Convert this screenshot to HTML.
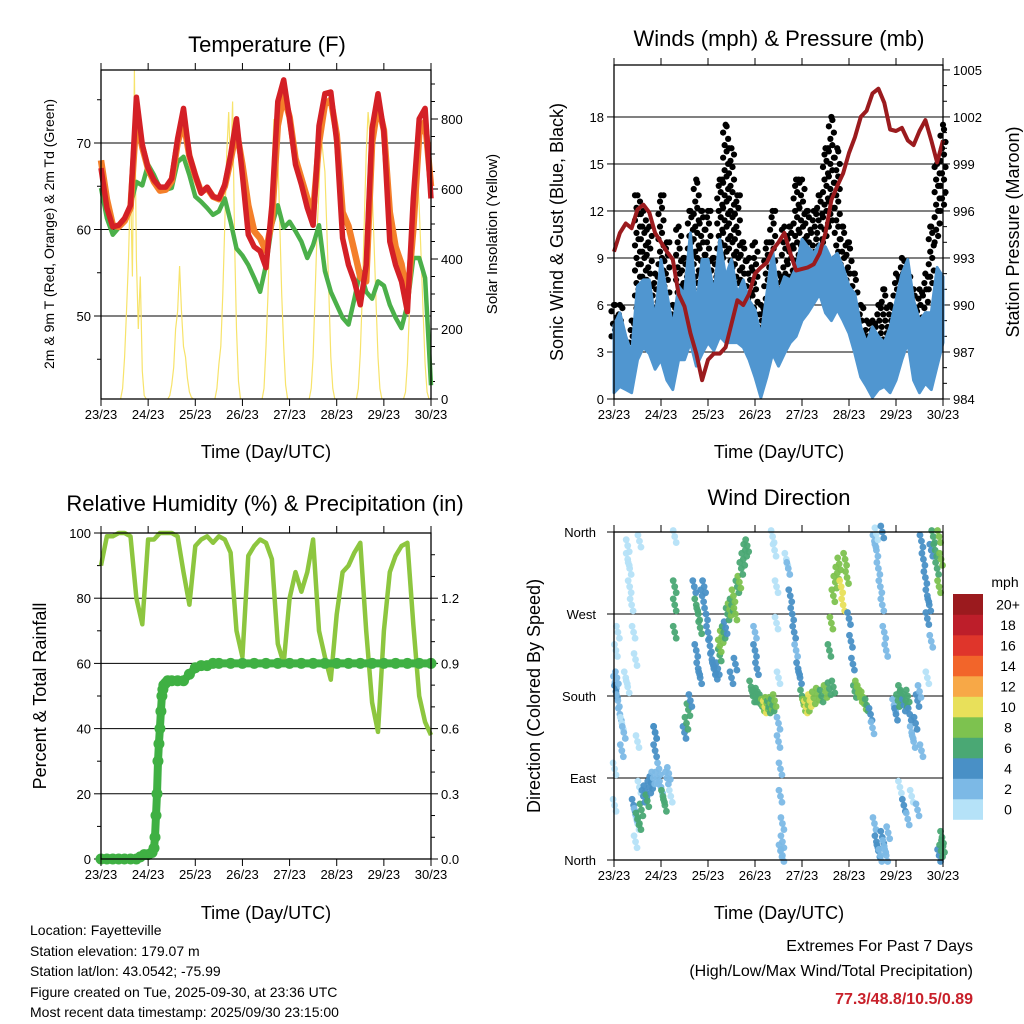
<!DOCTYPE html>
<html><head><meta charset="utf-8">
<style>
body{margin:0;background:#fff;}
svg{display:block;font-family:"Liberation Sans",Arial,sans-serif;}
</style></head>
<body>
<svg id="chart" width="1024" height="1024" viewBox="0 0 1024 1024" xmlns="http://www.w3.org/2000/svg">
<rect x="0" y="0" width="1024" height="1024" fill="#fff"/>
<g id="layer"></g>
<text x="267" y="52" font-size="22" text-anchor="middle">Temperature (F)</text>
<text x="779" y="46" font-size="22" text-anchor="middle">Winds (mph) &amp; Pressure (mb)</text>
<text x="265" y="511" font-size="22" text-anchor="middle">Relative Humidity (%) &amp; Precipitation (in)</text>
<text x="779" y="505" font-size="22" text-anchor="middle">Wind Direction</text>
<text x="266" y="458" font-size="18" text-anchor="middle">Time (Day/UTC)</text>
<text x="779" y="458" font-size="18" text-anchor="middle">Time (Day/UTC)</text>
<text x="266" y="919" font-size="18" text-anchor="middle">Time (Day/UTC)</text>
<text x="779" y="919" font-size="18" text-anchor="middle">Time (Day/UTC)</text>
<text transform="translate(54,234) rotate(-90)" font-size="14" text-anchor="middle">2m &amp; 9m T (Red, Orange) &amp; 2m Td (Green)</text>
<text transform="translate(497,234) rotate(-90)" font-size="15" text-anchor="middle">Solar Insolation (Yellow)</text>
<text transform="translate(563,232) rotate(-90)" font-size="18" text-anchor="middle">Sonic Wind &amp; Gust (Blue, Black)</text>
<text transform="translate(1019,232) rotate(-90)" font-size="18" text-anchor="middle">Station Pressure (Maroon)</text>
<text transform="translate(46,696) rotate(-90)" font-size="18" text-anchor="middle">Percent &amp; Total Rainfall</text>
<text transform="translate(540,696) rotate(-90)" font-size="18" text-anchor="middle">Direction (Colored By Speed)</text>
<g font-size="14">
<text x="30" y="935">Location: Fayetteville</text>
<text x="30" y="956">Station elevation: 179.07 m</text>
<text x="30" y="976">Station lat/lon: 43.0542; -75.99</text>
<text x="30" y="997">Figure created on Tue, 2025-09-30, at 23:36 UTC</text>
<text x="30" y="1017">Most recent data timestamp: 2025/09/30 23:15:00</text>
</g>
<text x="973" y="951" font-size="16" text-anchor="end">Extremes For Past 7 Days</text>
<text x="973" y="976" font-size="16" text-anchor="end">(High/Low/Max Wind/Total Precipitation)</text>
<text x="973" y="1004" font-size="16" font-weight="bold" fill="#c8202a" text-anchor="end">77.3/48.8/10.5/0.89</text>
</svg>
<script>
// ---------- data ----------
var dayLabels = ["23/23","24/23","25/23","26/23","27/23","28/23","29/23","30/23"];
var temp2m = [67.1,62.5,60.3,60.5,61.3,62.8,75.3,69.8,67.1,65.7,64.9,64.9,65.9,70.5,74.0,68.6,66.3,64.2,64.9,63.8,63.6,65.2,68.6,72.8,66.3,59.4,58.0,57.5,55.6,62.8,74.8,77.3,72.8,67.5,65.2,62.5,60.5,72.0,75.7,75.9,70.2,59.0,55.9,54.0,51.3,55.9,71.7,75.7,71.3,58.6,55.9,54.0,50.5,63.6,72.8,74.0,63.6];
var temp9m = [68.0,63.5,60.5,60.3,61.0,62.5,73.0,69.5,67.0,65.5,64.5,64.6,65.6,70.0,72.5,68.5,66.2,64.3,64.8,63.8,63.5,65.0,68.0,71.5,67.5,62.8,59.8,59.0,57.5,61.0,72.0,75.5,73.0,68.2,65.9,63.6,62.0,70.0,74.5,75.0,71.0,62.0,60.4,57.5,54.5,54.0,70.0,74.5,71.5,62.0,58.0,56.0,52.0,60.0,71.0,72.5,65.0];
var dewpt = [64.8,61.3,59.4,60.2,60.9,62.8,65.5,65.1,67.5,66.3,64.8,64.6,64.8,67.8,68.4,66.3,63.8,63.2,62.5,61.7,62.1,63.6,60.9,57.8,57.0,55.9,54.4,52.8,55.9,60.5,62.8,60.2,60.9,59.8,58.6,56.7,58.2,60.5,55.2,52.8,51.3,49.8,49.0,52.0,55.2,52.8,52.0,54.0,53.5,51.3,49.8,48.6,51.3,56.7,56.7,54.4,42.0];
var solarDay1 = [30,120,250,400,620,350,940,400,200,350,80,10,0];
var solarDay2 = [10,40,90,200,250,380,250,150,120,60,20,5,0];
var solarDay3 = [30,100,150,300,500,700,820,650,850,450,200,50,0];
var solarDay4 = [30,150,300,500,650,800,760,700,500,300,150,40,0];
var solarDay5 = [30,120,300,480,600,760,700,650,480,300,120,30,0];
var solarDay6 = [30,130,300,500,700,820,750,600,450,280,120,30,0];
var solarDay7 = [20,100,250,400,600,700,650,550,400,250,100,20,0];
var windLo = [0.4,0.8,0.6,0.4,2.5,3.3,2.9,1.9,2.5,1.2,0.6,2.5,2.5,3.6,2.1,2.9,3.6,3.1,4.0,3.6,3.6,3.6,3.3,2.5,1.4,0.1,1.4,2.9,2.1,2.9,3.6,4.0,5.0,5.5,6.1,6.7,5.5,5.0,5.7,5.0,4.2,2.9,1.4,0.8,0.1,0.6,0.8,0.4,1.2,2.5,3.6,1.2,0.4,1.0,0.6,2.1,3.6];
var windHi = [4.7,5.5,4.0,2.9,7.2,7.6,7.6,5.0,8.9,6.7,4.6,7.2,6.7,10.6,5.9,8.9,8.9,6.7,10.2,7.8,8.9,6.7,7.6,6.3,5.7,4.0,6.7,9.5,6.7,7.8,7.6,8.4,10.2,9.7,9.3,9.9,9.7,8.9,9.3,8.4,7.2,6.7,4.6,3.6,4.6,4.0,3.6,4.6,6.3,8.0,8.9,6.3,5.0,5.5,5.5,8.4,7.8];
var gustLo = [4,3,1,2,5,7,6,5,7,4,3,6,5,8,7,8,6,5,8,9,8,7,6,4,5,3,4,6,5,6,7,8,9,8,9,9,10,11,9,7,6,4,3,2,2,3,3,3,5,6,5,3,4,5,7,10,12];
var gustHi = [6,6,3,5,13,12,11,8,13,10,6,11,9,12,14,12,12,9,14,17.5,16,13,10,9,10,6,10,12,8,11,11,14,14,12,12,13,16,18,16,11,10,8,6,5,5,6,7,6,8,9,8,7,7,8,11,15,17.5];
var pressure = [993.4,994.6,995.2,994.9,996.1,996.4,995.9,994.6,994.0,993.4,992.9,990.7,989.9,988.2,986.9,985.2,986.5,986.9,986.9,987.3,988.8,990.3,990.0,990.7,992.0,992.4,992.7,993.5,994.0,994.6,993.3,992.2,992.3,992.4,992.6,993.3,994.6,996.7,997.6,998.4,999.7,1000.7,1002.0,1002.4,1003.5,1003.8,1002.9,1001.2,1001.1,1001.3,1000.5,1000.2,1001.1,1001.8,1000.5,999.1,1000.5];
var rh = [90,99,99,100,100,99,80,72,98,98,100,100,100,99,88,78,96,98,99,97,99,98,94,70,62,93,96,98,97,92,66,60,80,88,82,88,98,70,62,55,75,88,90,94,97,70,48,39,70,88,93,96,97,72,50,42,38];
var precipHours = [0,3,6,9,12,15,18,20,22,24,26,27,27.5,28,28.5,29,29.5,30,30.5,31,31.5,32,33,34,36,39,42,45,48,51,54,57,60,66,72,78,84,90,96,102,108,114,120,126,132,138,144,150,156,162,168];
var precipVals = [0,0,0,0,0,0,0,0.01,0.02,0.02,0.03,0.05,0.1,0.2,0.3,0.45,0.53,0.6,0.68,0.75,0.78,0.8,0.81,0.82,0.82,0.82,0.82,0.85,0.88,0.89,0.89,0.9,0.9,0.9,0.9,0.9,0.9,0.9,0.9,0.9,0.9,0.9,0.9,0.9,0.9,0.9,0.9,0.9,0.9,0.9,0.9];
var dirHours = [0.5,1,1.5,2,3,4,5,6,7,1,2,7,8,4,0.3,0.3,7,8,9,10,11,12,13,12,11,13,
10,11,12,13,14,15,16,17,18,19,20,21,22,23,24,25,26,27,28,29,21,21,31,
36,37,38,39,41,42,43,44,45,46,47,48,49,42,43,44,31,31,31,50,51,52,53,54,
54,55,56,57,58,59,60,61,62,63,64,65,66,67,68,62,60,
70,71,72,73,74,75,76,77,78,79,80,81,82,72,72,73,81,82,83,83,84,84,85,85,86,86,85,86,84,
88,89,90,91,92,93,94,95,96,97,98,99,100,102,104,106,108,110,112,
110,111,112,113,114,115,116,117,118,119,120,121,122,123,124,125,126,127,128,129,131,132,
133,134,135,136,137,138,139,134,137,133,134,135,136,137,138,139,140,
143,144,145,146,147,148,149,150,151,152,153,154,155,156,157,146,148,150,152,155,
157,158,159,160,160,161,162,163,164,165,166,167,166,162,160,166,167,167.5,168];
var dirDeg = [195,185,200,175,160,150,140,200,190,230,250,330,300,120,60,100,345,320,280,250,220,130,80,40,20,350,
60,50,45,40,55,70,75,65,80,85,90,140,90,100,80,70,60,90,95,70,140,120,355,
140,150,165,175,300,280,270,255,290,300,270,250,235,230,210,200,300,280,250,220,210,205,210,225,
235,245,250,255,270,275,280,290,270,300,305,320,330,340,345,215,200,
190,180,180,182,178,175,170,168,172,168,172,170,175,250,230,210,355,340,300,260,200,130,100,70,40,20,10,5,150,
330,320,290,270,250,230,210,200,180,170,168,170,175,178,182,180,185,188,190,
230,260,290,305,315,325,300,280,330,310,265,240,215,185,190,185,180,178,172,170,160,145,
350,340,320,300,280,250,230,358,360,40,20,10,5,25,15,5,30,
170,160,175,185,180,170,175,180,160,140,130,150,175,185,120,80,60,45,70,55,
350,330,310,290,265,280,340,355,340,320,300,330,355,240,200,5,10,25,15];
var dirSpeed = [3,4,2,3,2,1,2,1,1,1,1,0,1,2,1,1,0,0,0,0,1,1,0,0,0,0,
4,3,6,6,6,5,4,6,4,4,3,4,3,3,2,6,6,3,2,1,4,4,0,
4,6,6,4,4,6,6,6,4,4,4,4,4,4,4,4,6,6,6,4,4,5,4,6,
8,8,6,4,6,8,6,8,8,6,8,6,6,6,6,4,4,
6,6,6,6,6,6,8,10,8,6,8,6,8,2,4,4,0,0,1,1,1,2,2,2,2,3,3,2,2,
0,2,4,4,4,2,4,4,6,8,10,8,10,8,8,6,8,6,6,
6,8,8,8,8,8,10,10,8,8,4,4,4,6,8,8,8,8,8,6,4,2,
2,2,2,2,2,2,2,1,4,2,4,4,2,4,3,2,2,
3,4,6,6,6,4,6,6,4,3,3,4,4,3,2,1,4,2,1,3,
4,4,4,4,4,4,4,6,6,6,8,8,8,3,1,4,6,6,6];
var speedColors = ["#b5e2f8","#7cb9e6","#4990c6","#4aa874","#7dc24f","#e8e05a","#f7a847","#f2652a","#df352b","#bd1e2a","#9b1a1e"];
var colorbarLabels = ["0","2","4","6","8","10","12","14","16","18","20+"];

// ---------- helpers ----------
var NS = "http://www.w3.org/2000/svg";
var layer = document.getElementById("layer");
function mk(tag, attrs, name, parent) {
  var el = document.createElementNS(NS, tag);
  for (var k in attrs) el.setAttribute(k, attrs[k]);
  
  
  (parent || layer).appendChild(el);
  return el;
}
function txt(x, y, s, size, anchor, name) {
  var t = mk("text", {x: x, y: y, "font-size": size, "text-anchor": anchor}, name);
  t.textContent = s;
  return t;
}
function pathFrom(xs, ys) {
  var d = "";
  for (var i = 0; i < xs.length; i++) d += (i ? "L" : "M") + xs[i].toFixed(1) + " " + ys[i].toFixed(1);
  return d;
}
function xAxis(x0, x1, y0, y1, prefix) {
  for (var i = 0; i < dayLabels.length; i++) {
    var x = x0 + (x1 - x0) * i / 7;
    mk("line", {x1: x, y1: y1, x2: x, y2: y1 + 7, stroke: "#000", "stroke-width": 1}, prefix + "-x-tick");
    mk("line", {x1: x, y1: y0, x2: x, y2: y0 - 7, stroke: "#000", "stroke-width": 1}, prefix + "-x-tick-top");
    txt(x, y1 + 20, dayLabels[i], 13, "middle", prefix + "-x-tick-label");
  }
}
function yTicks(vals, yf, x, side, labelFn, prefix, grid, x0, x1, major) {
  for (var i = 0; i < vals.length; i++) {
    var y = yf(vals[i]);
    var len = major ? 7 : 4;
    mk("line", {x1: x, y1: y, x2: x + side * len, y2: y, stroke: "#000", "stroke-width": 1}, prefix + "-tick");
    if (grid) mk("line", {x1: x0, y1: y, x2: x1, y2: y, stroke: "#000", "stroke-width": 1}, prefix + "-gridline");
    if (labelFn) txt(x + side * 10, y + 5, labelFn(vals[i]), 13, side < 0 ? "end" : "start", prefix + "-tick-label");
  }
}
function frame(x0, y0, x1, y1, name) {
  mk("rect", {x: x0, y: y0, width: x1 - x0, height: y1 - y0, fill: "none", stroke: "#000", "stroke-width": 1.3}, name);
}

// ---------- Panel 1: temperature ----------
(function () {
  var x0 = 101, x1 = 431, y0 = 70, y1 = 399;
  var xh = function (h) { return x0 + h / 168 * (x1 - x0); };
  var yT = function (v) { return 143 - (v - 70) * 8.65; };
  var yS = function (v) { return 399 - v * 0.35; };
  yTicks([50, 60, 70], yT, x0, -1, function (v) { return v; }, "temp-y", true, x0, x1, true);
  yTicks([45, 55, 65, 75], yT, x0, -1, null, "temp-y-minor", false, 0, 0, false);
  yTicks([0, 200, 400, 600, 800], yS, x1, 1, function (v) { return v; }, "solar-y", false, 0, 0, true);
  yTicks([50, 100, 150, 250, 300, 350, 450, 500, 550, 650, 700, 750, 850, 900], yS, x1, 1, null, "solar-y-minor", false, 0, 0, false);
  var solar = [].concat(solarDay1, solarDay2, solarDay3, solarDay4, solarDay5, solarDay6, solarDay7);
  for (var d = 0; d < 7; d++) {
    var sx = [], sy = [];
    sx.push(xh(d * 24 + 10)); sy.push(yS(0));
    for (var k = 0; k < 13; k++) {
      var v = solar[d * 13 + k];
      sx.push(xh(d * 24 + 11 + k)); sy.push(yS(Math.min(v, 940)));
    }
    mk("path", {d: pathFrom(sx, sy), fill: "none", stroke: "#f7e36a", "stroke-width": 1.2}, "solar-line-day-" + (d + 1));
  }
  var xs = temp2m.map(function (_, i) { return xh(i * 3); });
  mk("path", {d: pathFrom(dewpt.map(function (_, i) { return xh(i * 3); }), dewpt.map(yT)), fill: "none", stroke: "#4bb04a", "stroke-width": 4.5, "stroke-linejoin": "round"}, "dewpoint-line");
  mk("path", {d: pathFrom(temp9m.map(function (_, i) { return xh(i * 3); }), temp9m.map(yT)), fill: "none", stroke: "#f47f2a", "stroke-width": 6.5, "stroke-linejoin": "round"}, "temp-9m-line");
  mk("path", {d: pathFrom(xs, temp2m.map(yT)), fill: "none", stroke: "#d42026", "stroke-width": 5.5, "stroke-linejoin": "round"}, "temp-2m-line");
  xAxis(x0, x1, y0, y1, "temp");
  frame(x0, y0, x1, y1, "temp-plot-frame");
})();

// ---------- Panel 2: winds & pressure ----------
(function () {
  var x0 = 614, x1 = 943, y0 = 65, y1 = 399;
  var xh = function (h) { return x0 + h / 168 * (x1 - x0); };
  var yW = function (v) { return 399 - v * 15.67; };
  var yP = function (p) { return 399 - (p - 984) * 15.67; };
  yTicks([0, 3, 6, 9, 12, 15, 18], yW, x0, -1, function (v) { return v; }, "wind-y", true, x0, x1, true);
  yTicks([984, 987, 990, 993, 996, 999, 1002, 1005], yP, x1, 1, function (v) { return v; }, "pressure-y", false, 0, 0, true);
  yTicks([985, 986, 988, 989, 991, 992, 994, 995, 997, 998, 1000, 1001, 1003, 1004], yP, x1, 1, null, "pressure-y-minor", false, 0, 0, false);
  var offs = [-2.5, 1, -1, 2.5];
  for (var i = 0; i < gustLo.length; i++) {
    var cx = xh(i * 3);
    var n = 0;
    for (var g = gustLo[i]; g <= gustHi[i] + 0.01; g += 0.4) {
      mk("circle", {cx: cx + offs[n % 4], cy: yW(g), r: 3.1, fill: "#000"}, "gust-point");
      n++;
    }
    mk("circle", {cx: cx, cy: yW(gustHi[i]), r: 3.1, fill: "#000"}, "gust-peak-point");
  }
  var up = windHi.map(function (_, i) { return xh(i * 3); });
  var d = pathFrom(up, windHi.map(yW));
  for (var j = windLo.length - 1; j >= 0; j--) d += "L" + xh(j * 3).toFixed(1) + " " + yW(windLo[j]).toFixed(1);
  mk("path", {d: d + "Z", fill: "#5096d0", stroke: "#5096d0", "stroke-width": 3, "stroke-linejoin": "round"}, "wind-speed-band");
  mk("path", {d: pathFrom(pressure.map(function (_, i) { return xh(i * 3); }), pressure.map(yP)), fill: "none", stroke: "#9b1b1e", "stroke-width": 4, "stroke-linejoin": "round"}, "pressure-line");
  xAxis(x0, x1, y0, y1, "wind");
  frame(x0, y0, x1, y1, "wind-plot-frame");
})();

// ---------- Panel 3: RH & precipitation ----------
(function () {
  var x0 = 101, x1 = 431, y0 = 533, y1 = 859;
  var xh = function (h) { return x0 + h / 168 * (x1 - x0); };
  var yR = function (v) { return 859 - v * 3.26; };
  var yPr = function (v) { return 859 - v / 1.5 * 326; };
  yTicks([0, 20, 40, 60, 80, 100], yR, x0, -1, function (v) { return v; }, "rh-y", true, x0, x1, true);
  yTicks([10, 30, 50, 70, 90], yR, x0, -1, null, "rh-y-minor", false, 0, 0, false);
  yTicks([0, 0.3, 0.6, 0.9, 1.2], yPr, x1, 1, function (v) { return v.toFixed(1); }, "precip-y", false, 0, 0, true);
  yTicks([0.1, 0.2, 0.4, 0.5, 0.7, 0.8, 1.0, 1.1, 1.3, 1.4], yPr, x1, 1, null, "precip-y-minor", false, 0, 0, false);
  mk("path", {d: pathFrom(rh.map(function (_, i) { return xh(i * 3); }), rh.map(yR)), fill: "none", stroke: "#8dc63f", "stroke-width": 4.5, "stroke-linejoin": "round"}, "rh-line");
  mk("path", {d: pathFrom(precipHours.map(xh), precipVals.map(yPr)), fill: "none", stroke: "#3fb043", "stroke-width": 8, "stroke-linejoin": "round", "stroke-linecap": "round"}, "precip-line");
  for (var i = 0; i < precipHours.length; i++) {
    mk("circle", {cx: xh(precipHours[i]), cy: yPr(precipVals[i]), r: 5.5, fill: "#3fb043"}, "precip-point");
  }
  xAxis(x0, x1, y0, y1, "rh");
  frame(x0, y0, x1, y1, "rh-plot-frame");
})();

// ---------- Panel 4: wind direction ----------
(function () {
  var x0 = 614, x1 = 943, y0 = 532, y1 = 860;
  var xh = function (h) { return x0 + h / 168 * (x1 - x0); };
  var yD = function (v) { return 860 - v * 328 / 360; };
  var names = ["North", "East", "South", "West", "North"];
  var degs = [0, 90, 180, 270, 360];
  for (var i = 0; i < 5; i++) {
    var y = yD(degs[i]);
    mk("line", {x1: x0 - 7, y1: y, x2: x1, y2: y, stroke: "#000", "stroke-width": 1}, "wd-gridline");
    txt(x0 - 18, y + 5, names[i], 13, "end", "wd-y-tick-label");
  }
  var jx = [0, 1.5, -1.5], jy = [0, 6, -6];
  for (var k = 0; k < dirHours.length; k++) {
    var ci = Math.min(10, Math.floor(dirSpeed[k] / 2));
    for (var c = 0; c < 3; c++) {
      mk("circle", {cx: xh(dirHours[k]) + jx[c], cy: yD(dirDeg[k]) + jy[c], r: 3.4, fill: speedColors[ci], "fill-opacity": 0.95}, "wind-direction-point");
    }
  }
  xAxis(x0, x1, y0, y1, "wd");
  frame(x0, y0, x1, y1, "wd-plot-frame");
  var cbTop = 594, h = 20.5;
  txt(1005, 587, "mph", 14, "middle", "colorbar-title");
  for (var j = 0; j < speedColors.length; j++) {
    var yy = cbTop + (10 - j) * h;
    mk("rect", {x: 953, y: yy, width: 30, height: h + 0.3, fill: speedColors[j]}, "colorbar-swatch");
    txt(1008, yy + h / 2 + 5, colorbarLabels[j], 14, "middle", "colorbar-label");
  }
})();
</script>
</body></html>
